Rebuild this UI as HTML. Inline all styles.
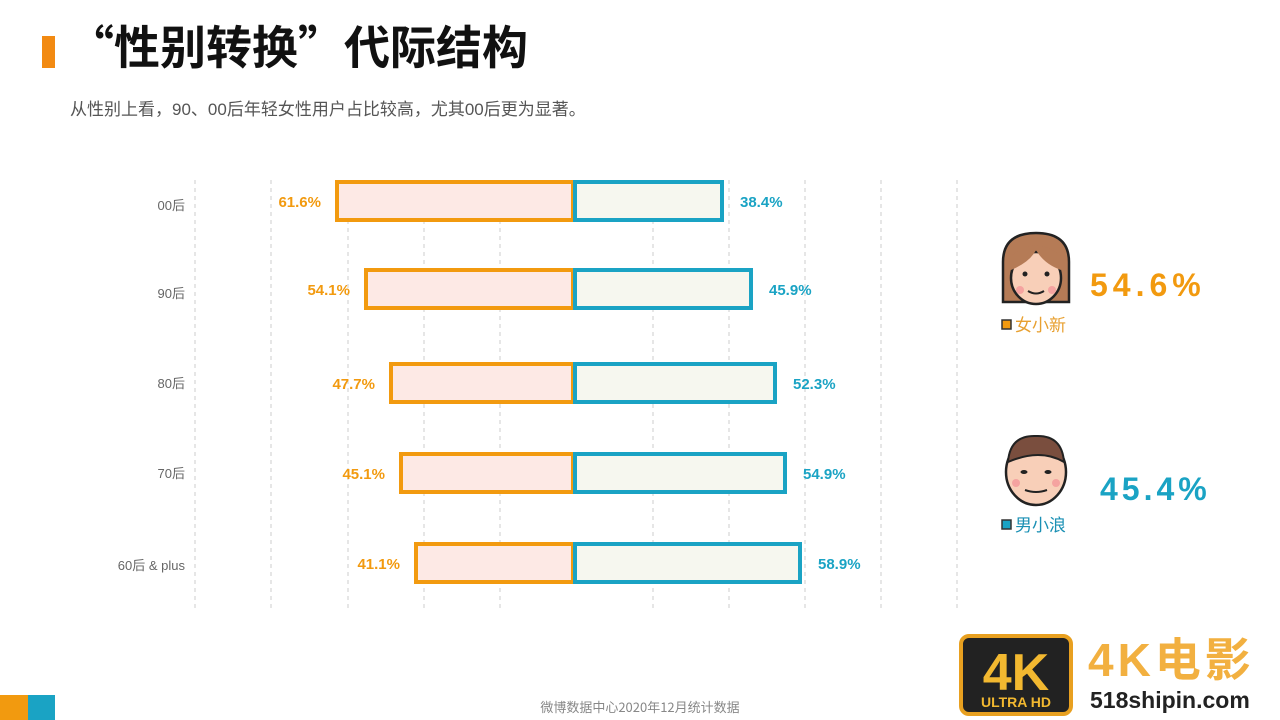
<!DOCTYPE html>
<html><head><meta charset="utf-8"><style>
body{margin:0;width:1280px;height:720px;background:#fff;overflow:hidden;position:relative;font-family:"Liberation Sans","Noto Sans CJK SC",sans-serif}
.a{position:absolute}
</style></head><body>
<div class="a" style="left:42px;top:36px;width:13px;height:32px;background:#f28a12"></div>
<div class="a" style="left:68px;top:15px;font-size:46px;font-weight:bold;color:#111;letter-spacing:0px;line-height:60px;font-family:'Noto Sans CJK SC',sans-serif">“性别转换”代际结构</div>
<div class="a" style="left:70px;top:95px;font-size:17px;color:#555">从性别上看，90、00后年轻女性用户占比较高，尤其00后更为显著。</div>
<svg class="a" style="left:0;top:0" width="1280" height="720">
<g stroke="#ccc" stroke-dasharray="4,4" stroke-width="1">
<line x1="195" y1="180" x2="195" y2="608"/><line x1="271" y1="180" x2="271" y2="608"/><line x1="348" y1="180" x2="348" y2="608"/><line x1="424" y1="180" x2="424" y2="608"/><line x1="500" y1="180" x2="500" y2="608"/><line x1="653" y1="180" x2="653" y2="608"/><line x1="729" y1="180" x2="729" y2="608"/><line x1="805" y1="180" x2="805" y2="608"/><line x1="881" y1="180" x2="881" y2="608"/><line x1="957" y1="180" x2="957" y2="608"/>
</g>
<g stroke-width="4">
<rect x="337" y="182" width="236" height="38" fill="#fde9e5" stroke="#f29a0f"/><rect x="575" y="182" width="147" height="38" fill="#f6f7ef" stroke="#1aa3c4"/>
<rect x="366" y="270" width="207" height="38" fill="#fde9e5" stroke="#f29a0f"/><rect x="575" y="270" width="176" height="38" fill="#f6f7ef" stroke="#1aa3c4"/>
<rect x="391" y="364" width="182" height="38" fill="#fde9e5" stroke="#f29a0f"/><rect x="575" y="364" width="200" height="38" fill="#f6f7ef" stroke="#1aa3c4"/>
<rect x="401" y="454" width="172" height="38" fill="#fde9e5" stroke="#f29a0f"/><rect x="575" y="454" width="210" height="38" fill="#f6f7ef" stroke="#1aa3c4"/>
<rect x="416" y="544" width="157" height="38" fill="#fde9e5" stroke="#f29a0f"/><rect x="575" y="544" width="225" height="38" fill="#f6f7ef" stroke="#1aa3c4"/>
</g>
<g font-size="13" fill="#666" text-anchor="end" font-family="Liberation Sans,Noto Sans CJK SC,sans-serif">
<text x="185" y="210">00后</text><text x="185" y="298">90后</text><text x="185" y="388">80后</text><text x="185" y="478">70后</text><text x="185" y="570">60后 &amp; plus</text>
</g>
<g font-size="15" font-weight="bold" fill="#f29a0f" text-anchor="end">
<text x="321" y="207">61.6%</text><text x="350" y="295">54.1%</text><text x="375" y="389">47.7%</text><text x="385" y="479">45.1%</text><text x="400" y="569">41.1%</text>
</g>
<g font-size="15" font-weight="bold" fill="#1aa3c4">
<text x="740" y="207">38.4%</text><text x="769" y="295">45.9%</text><text x="793" y="389">52.3%</text><text x="803" y="479">54.9%</text><text x="818" y="569">58.9%</text>
</g>
<path d="M1003 302 V262 Q1003 233 1036 233 Q1069 233 1069 262 V302 Z" fill="#b57b56" stroke="#222" stroke-width="2.5"/>
<ellipse cx="1036" cy="278" rx="25" ry="26" fill="#f8cfb8" stroke="#222" stroke-width="2.5"/>
<path d="M1011 270 Q1030 262 1036 250 Q1044 264 1061 270 L1061 256 Q1036 235 1011 256Z" fill="#b57b56"/>
<circle cx="1020" cy="290" r="4" fill="#f5a3a0"/><circle cx="1052" cy="290" r="4" fill="#f5a3a0"/>
<circle cx="1025" cy="274" r="2.5" fill="#222"/><circle cx="1047" cy="274" r="2.5" fill="#222"/>
<path d="M1028 291 Q1036 296 1044 291" stroke="#222" stroke-width="2" fill="none"/>
<text x="1090" y="296" font-size="32" font-weight="bold" fill="#f29a0f" letter-spacing="5">54.6%</text>
<rect x="1002" y="320" width="9" height="9" fill="#f29a0f" stroke="#333" stroke-width="1.5"/>
<text x="1015" y="331" font-size="17" fill="#e8a030" font-family="Noto Sans CJK SC,sans-serif">女小新</text>
<ellipse cx="1036" cy="472" rx="30" ry="33" fill="#f8cfb8" stroke="#222" stroke-width="2.5"/>
<path d="M1008 462 Q1010 435 1036 436 Q1062 435 1064 462 Q1040 448 1008 462Z" fill="#7a4e3e" stroke="#222" stroke-width="2"/>
<circle cx="1016" cy="483" r="4" fill="#f5a3a0"/><circle cx="1056" cy="483" r="4" fill="#f5a3a0"/>
<ellipse cx="1024" cy="472" rx="3.5" ry="2" fill="#222"/><ellipse cx="1048" cy="472" rx="3.5" ry="2" fill="#222"/>
<path d="M1025 490 Q1036 494 1047 490" stroke="#222" stroke-width="2" fill="none"/>
<text x="1100" y="500" font-size="32" font-weight="bold" fill="#1aa3c4" letter-spacing="4">45.4%</text>
<rect x="1002" y="520" width="9" height="9" fill="#1aa3c4" stroke="#333" stroke-width="1.5"/>
<text x="1015" y="531" font-size="17" fill="#1a90b4" font-family="Noto Sans CJK SC,sans-serif">男小浪</text>
<rect x="0" y="695" width="28" height="25" fill="#f29a0f"/><rect x="28" y="695" width="27" height="25" fill="#1aa3c4"/>
<text x="640" y="712" font-size="13" fill="#888" text-anchor="middle" font-family="Noto Sans CJK SC,sans-serif">微博数据中心2020年12月统计数据</text>
<rect x="961" y="636" width="110" height="78" rx="8" fill="#222" stroke="#e8a020" stroke-width="4"/>
<text x="1016" y="690" font-size="52" font-weight="bold" fill="#f2b830" text-anchor="middle">4K</text>
<text x="1016" y="707" font-size="14" font-weight="bold" fill="#f2b830" text-anchor="middle">ULTRA HD</text>
<text x="1088" y="676" font-size="46" font-weight="bold" fill="#f2b040" letter-spacing="4" font-family="Liberation Sans,Noto Sans CJK SC,sans-serif">4K电影</text>
<text x="1090" y="708" font-size="23" font-weight="bold" fill="#222">518shipin.com</text>
</svg>
</body></html>
